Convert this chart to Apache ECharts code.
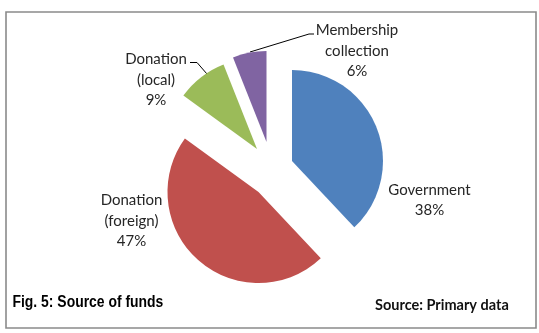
<!DOCTYPE html>
<html>
<head>
<meta charset="utf-8">
<script src="https://cdn.jsdelivr.net/npm/echarts@6/dist/echarts.min.js"></script>
<style>
  html, body { margin: 0; padding: 0; background: #fff; }
  #chart { width: 539px; height: 333px; }
</style>
</head>
<body>
<div id="chart"></div>
<script>
// Source of funds (per cent of total)
const categories = ['Government', 'Donation\n(foreign)', 'Donation\n(local)', 'Membership\ncollection'];
const shares = [38, 47, 9, 6];
const colors = ['#4F81BD', '#C0504D', '#9BBB59', '#8064A2'];

// Exploded pie: every slice is pulled out by its own amount, so each one
// is drawn by its own pie series centred where that slice sits.
const sliceCenters = [[292, 161], [258.5, 192], [257, 149], [266.5, 142]];
const pieRadius = 91;

// Where each label block sits, and the leader lines for the two small slices.
const labelSpots = [[429.5, 200], [131.5, 221], [156, 80], [357, 51]];
const leaderLines = [
  null,
  null,
  [[207, 74], [197, 62.5], [190, 62.5]],
  [[250, 52], [309, 34], [314, 34]]
];

const labelFont = 'Lato, "Open Sans", sans-serif';

const series = categories.map(function (_, k) {
  return {
    type: 'pie',
    center: sliceCenters[k],
    radius: pieRadius,
    startAngle: 90,
    clockwise: true,
    avoidLabelOverlap: false,
    silent: true,
    animation: false,
    emphasis: { disabled: true },
    label: {
      show: true,
      position: 'outside',
      formatter: '{b}\n{d}%',
      fontFamily: labelFont,
      fontSize: 15,
      lineHeight: 20.5,
      color: '#262626',
      align: 'center'
    },
    labelLine: {
      show: true,
      lineStyle: { color: '#000', width: 1 }
    },
    labelLayout: function (params) {
      const spot = labelSpots[k];
      const out = { x: spot[0], y: spot[1], align: 'center', verticalAlign: 'middle' };
      if (leaderLines[k]) out.labelLinePoints = leaderLines[k];
      return out;
    },
    data: categories.map(function (name, i) {
      const own = i === k;
      return {
        name: name,
        value: shares[i],
        itemStyle: { color: own ? colors[i] : 'rgba(0,0,0,0)' },
        label: { show: own },
        labelLine: { show: own && !!leaderLines[i] }
      };
    })
  };
});

const chart = echarts.init(document.getElementById('chart'), null, { renderer: 'canvas' });
chart.setOption({
  backgroundColor: '#fff',
  animation: false,
  graphic: [
    {
      type: 'rect',
      shape: { x: 6, y: 12, width: 530, height: 316 },
      style: { fill: 'none', stroke: '#8a8a8a', lineWidth: 1.6 },
      silent: true,
      z: -1
    },
    {
      // condensed bold caption
      type: 'text',
      x: 12.5,
      y: 302.5,
      scaleX: 0.87,
      style: {
        text: 'Fig. 5: Source of funds',
        font: 'bold 16px "Liberation Sans", Arial, sans-serif',
        fill: '#000',
        textAlign: 'left',
        textVerticalAlign: 'middle'
      }
    },
    {
      type: 'text',
      x: 375,
      y: 305,
      style: {
        text: 'Source: Primary data',
        font: 'bold 14.5px Lato, "Open Sans", sans-serif',
        fill: '#111',
        textAlign: 'left',
        textVerticalAlign: 'middle'
      }
    }
  ],
  series: series
});
</script>
</body>
</html>
